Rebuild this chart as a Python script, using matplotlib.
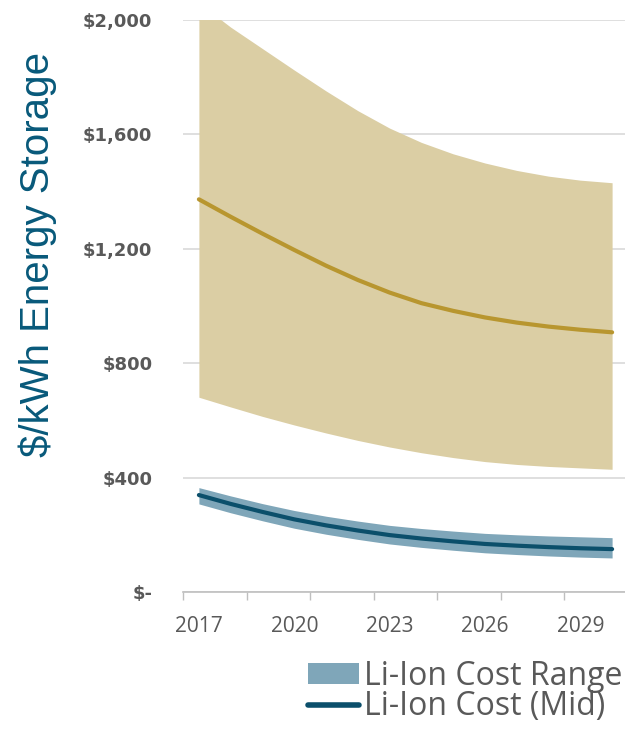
import matplotlib
matplotlib.use("Agg")
import matplotlib.pyplot as plt
from matplotlib.ticker import FuncFormatter, FixedLocator
from matplotlib.patches import Patch
from matplotlib.lines import Line2D

plt.rcParams['text.parse_math'] = False

years = [2017, 2018, 2019, 2020, 2021, 2022, 2023, 2024, 2025, 2026, 2027, 2028, 2029, 2030]
other_high = [2060, 1975, 1900, 1825, 1752, 1683, 1622, 1572, 1532, 1500, 1474, 1454, 1440, 1431]
other_low = [681, 647, 614, 584, 556, 530, 507, 487, 470, 456, 446, 439, 434, 429]
other_mid = [1373, 1312, 1253, 1196, 1141, 1091, 1047, 1010, 983, 960, 942, 928, 917, 908]
liion_high = [365, 336, 309, 285, 265, 248, 233, 222, 213, 205, 200, 196, 193, 190]
liion_low = [308, 277, 249, 223, 202, 184, 168, 156, 146, 137, 131, 126, 122, 119]
liion_mid = [339, 308, 280, 254, 233, 215, 199, 187, 177, 168, 162, 157, 153, 150]

y_ticks = [0, 400, 800, 1200, 1600, 2000]
x_label_years = [2017, 2020, 2023, 2026, 2029]

fig = plt.figure(figsize=(6.25, 7.48), dpi=100)
ax = fig.add_axes([183/625, (748-592)/748, 445/625, 572/748])

ax.fill_between(years, other_low, other_high, color='#DBCEA4', linewidth=0, zorder=2)
ax.plot(years, other_mid, color='#B8962F', linewidth=3, solid_capstyle='round', zorder=4)
ax.fill_between(years, liion_low, liion_high, color='#7FA6B9', linewidth=0, zorder=2,
                label='Li-Ion Cost Range')
ax.plot(years, liion_mid, color='#0B4F6B', linewidth=3, solid_capstyle='round', zorder=4,
        label='Li-Ion Cost (Mid)')

ax.set_xlim(2016.5, 2030.5)
ax.set_ylim(0, 2000)

ax.set_yticks(y_ticks)
ax.yaxis.set_major_formatter(FuncFormatter(lambda v, p: '$-' if v == 0 else '${:,.0f}'.format(v)))
ax.tick_params(axis='y', length=0, pad=22, labelsize=13, labelcolor='#595959')
for lab in ax.get_yticklabels():
    lab.set_fontfamily('DejaVu Sans')
    lab.set_fontweight('bold')

ax.xaxis.set_major_locator(FixedLocator(x_label_years))
ax.xaxis.set_major_formatter(FuncFormatter(lambda v, p: str(int(round(v)))))
ax.xaxis.set_minor_locator(FixedLocator([2016.5 + 2*i for i in range(8)]))
ax.tick_params(axis='x', which='major', length=0, pad=17, labelsize=15, labelcolor='#595959')
ax.tick_params(axis='x', which='minor', length=6, width=1, color='#BFBFBF')
for lab in ax.get_xticklabels():
    lab.set_fontfamily('Open Sans')

ax.grid(axis='y', color='#808080', alpha=0.3, linewidth=1.2)
for gl in ax.get_ygridlines():
    gl.set_zorder(3)
for s in ['top', 'right', 'left']:
    ax.spines[s].set_visible(False)
ax.spines['bottom'].set_color('#BFBFBF')
ax.spines['bottom'].set_linewidth(1.2)
ax.spines['bottom'].set_zorder(3)

ax.set_ylabel('$/kWh Energy Storage', fontsize=29, color='#08597A', family='Liberation Sans')
ax.yaxis.label.set(ha='center', va='center', rotation_mode='default')
ax.yaxis.set_label_coords((38-183)/445, (592-254)/572)

handles = [Patch(facecolor='#7FA6B9', edgecolor='none'),
           Line2D([0], [0], color='#0B4F6B', linewidth=4, solid_capstyle='round')]
leg = fig.legend(handles, ['Li-Ion Cost Range', 'Li-Ion Cost (Mid)'],
                 loc='upper left', bbox_to_anchor=(308/625, 1 - 660/748),
                 frameon=False, prop={'family': 'Open Sans', 'size': 23},
                 handlelength=1.6, handleheight=0.62, handletextpad=0.15,
                 labelspacing=-0.08, borderpad=0, borderaxespad=0, labelcolor='#595959')

fig.savefig('out.png', dpi=100)
